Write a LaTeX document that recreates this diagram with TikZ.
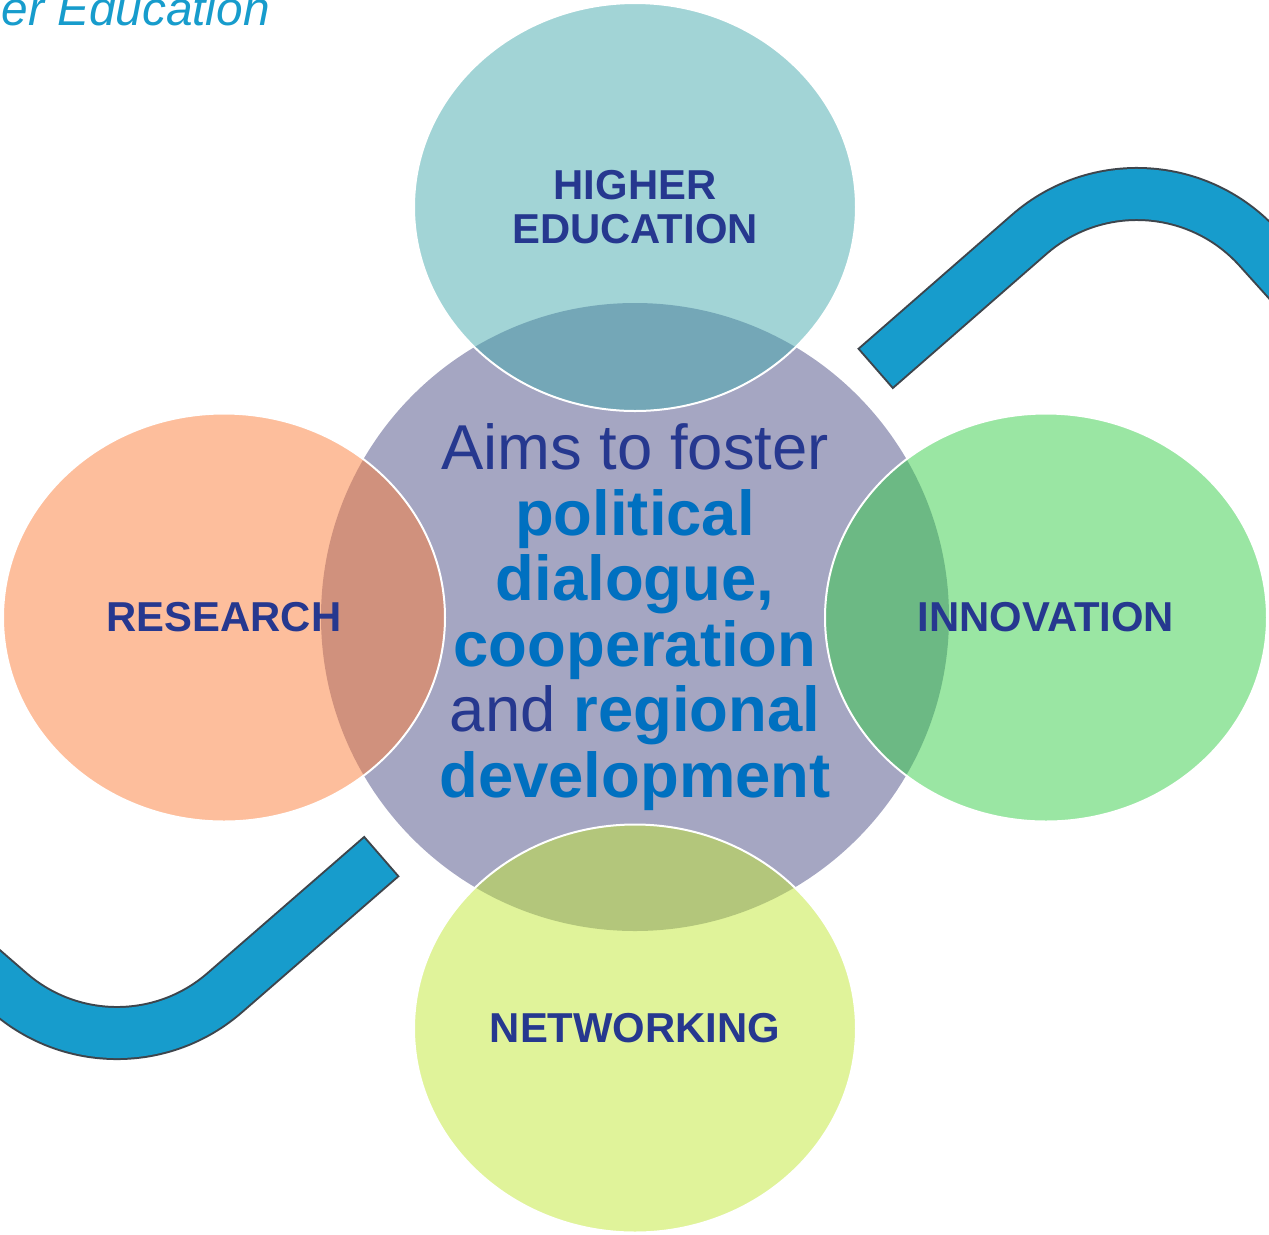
\documentclass[tikz,border=0pt]{standalone}
\usepackage{fontspec}
\setmainfont{Liberation Sans}
\usepackage{xcolor}
\usepackage{tikz}
\usetikzlibrary{shapes}
\newlength{\Unit}
\setlength\Unit{0.02cm}
\definecolor{aimgrey}{HTML}{A5A6C2}
\definecolor{tealbase}{HTML}{45A9AD}
\definecolor{salmonbase}{HTML}{FB7D39}
\definecolor{greenbase}{HTML}{35CD47}
\definecolor{limebase}{HTML}{C1E735}
\definecolor{textnavy}{HTML}{26388F}
\definecolor{boldblue}{HTML}{0070C0}
\definecolor{bandblue}{HTML}{179CCC}
\definecolor{edgegrey}{HTML}{3E454C}
\newcommand{\keyword}[1]{\textcolor{boldblue}{\bfseries #1}}

\begin{document}
\begin{tikzpicture}[
    x = 0.02cm, y = -0.02cm,
    aim/.style = {circle, fill = aimgrey, inner sep = 0pt, minimum size = 628\Unit, align = center, text = textnavy, font = \fontsize{36.1}{37.3}\selectfont},
    area/.style = {ellipse, draw = white, line width = 2\Unit, fill opacity = 0.5, text opacity = 1, inner sep = 0pt, minimum width = 442\Unit, minimum height = 408\Unit, align = center, text = textnavy, font = \fontsize{23.8}{25.2}\selectfont\bfseries},
    bandedge/.style = {draw = edgegrey, line width = 54\Unit},
    bandfill/.style = {draw = bandblue, line width = 50\Unit, shorten <= 2\Unit},
    ]

    \useasboundingbox (0,0) rectangle (1269,1235);
    \clip (0,0) rectangle (1269,1235);

    % title cut by the page edge
    \node [anchor = base east, text = bandblue, font = \fontsize{27.2}{30}\selectfont\itshape] (title) at (276,25) {er Education};

    % blue bands
    \draw [bandedge] (875,369) -- (1029.4,234.2) arc[start angle = 131, end angle = 42, radius = 164\Unit] -- ++(100,111);
    \draw [bandfill] (875,369) -- (1029.4,234.2) arc[start angle = 131, end angle = 42, radius = 164\Unit] -- ++(100,111);
    \draw [bandedge] (382,856) -- (224.6,992.8) arc[start angle = -49, end angle = -131, radius = 164\Unit] -- ++(-113,-98);
    \draw [bandfill] (382,856) -- (224.6,992.8) arc[start angle = -49, end angle = -131, radius = 164\Unit] -- ++(-113,-98);

    % central aim
    \node [aim] (aims) at (635,617) {Aims to foster\\\keyword{political}\\\keyword{dialogue,}\\\keyword{cooperation}\\and \keyword{regional}\\\keyword{development}};

    % four areas around it
    \node [area, fill = tealbase] (higher) at (635,207) {HIGHER\\EDUCATION};
    \node [area, fill = salmonbase] (research) at (224,617.5) {RESEARCH};
    \node [area, fill = greenbase] (innovation) at (1046,617.5) {INNOVATION};
    \node [area, fill = limebase] (networking) at (635,1028.5) {NETWORKING};
\end{tikzpicture}
\end{document}
